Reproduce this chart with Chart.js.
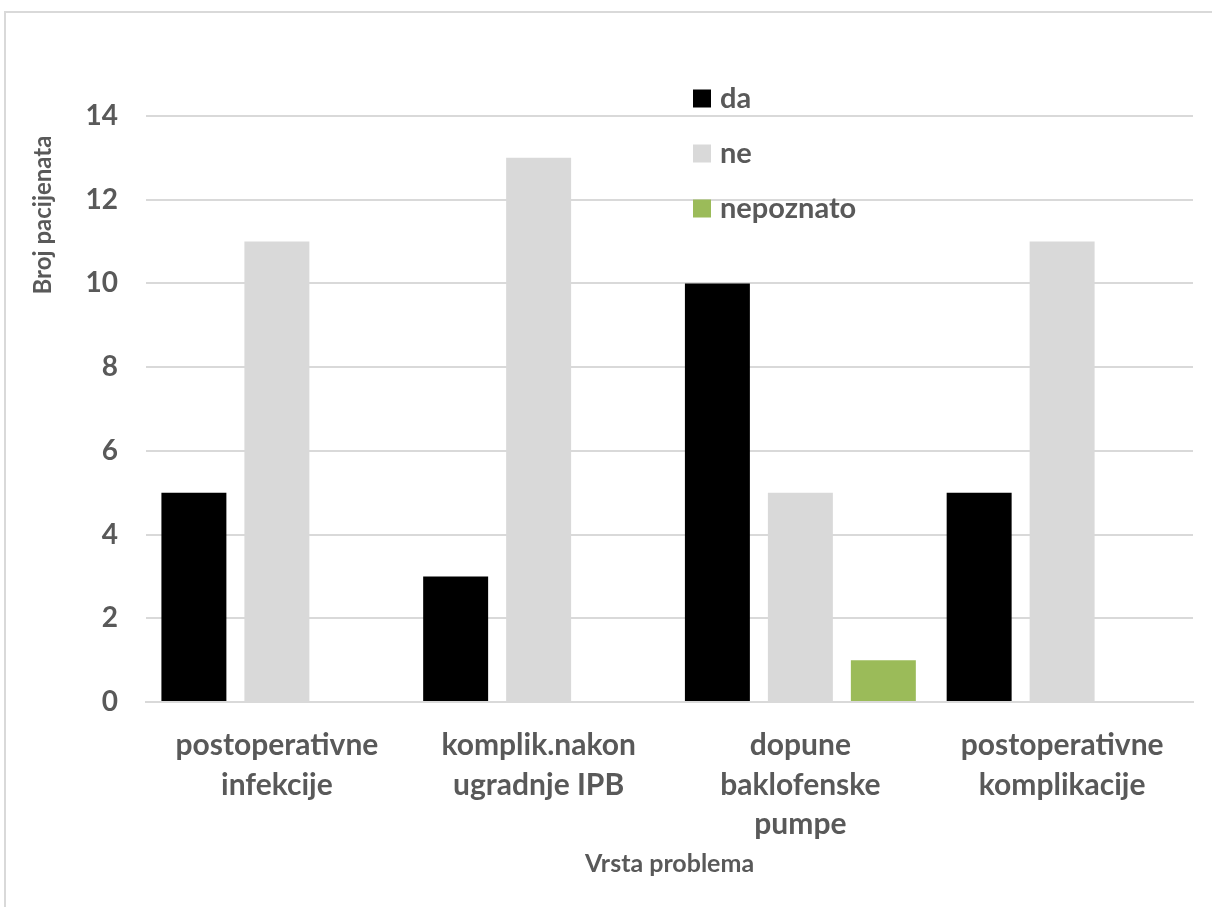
<!DOCTYPE html>
<html>
<head>
<meta charset="utf-8">
<script src="https://cdn.jsdelivr.net/npm/chart.js@4.4.1/dist/chart.umd.min.js"></script>
<style>
    html, body { margin: 0; padding: 0; background: #fff; overflow: hidden; }
    #frame {
        position: absolute; left: 4px; top: 11px; width: 1230px; height: 920px;
        border: 2px solid #d9d9d9; box-sizing: border-box;
    }
    #wrap { position: absolute; left: 0; top: 0; width: 1212px; height: 907px; }
</style>
</head>
<body>
<div id="frame"></div>
<div id="wrap"><canvas id="chart" width="1212" height="907"></canvas></div>
<script>
    // podaci s grafa
    const categories = [
        ['postoperativne', 'infekcije'],
        ['komplik.nakon', 'ugradnje IPB'],
        ['dopune', 'baklofenske', 'pumpe'],
        ['postoperativne', 'komplikacije'],
    ];
    const seriesNames = ['da', 'ne', 'nepoznato'];
    const daValues = [5, 3, 10, 5];
    const neValues = [11, 13, 5, 11];
    const nepoznatoValues = [0, 0, 1, 0];
    const yTicks = [0, 2, 4, 6, 8, 10, 12, 14];

    const textColor = '#595959';
    const fontFamily = 'Lato, "Open Sans", sans-serif';

    // legenda i naslovi osi crtaju se ručno (Excel ih drži na fiksnim mjestima)
    const extrasPlugin = {
        id: 'extras',
        afterDraw: function (chart) {
            const ctx = chart.ctx;
            const area = chart.chartArea;
            ctx.save();
            ctx.fillStyle = textColor;
            ctx.textAlign = 'center';
            ctx.textBaseline = 'middle';

            // naslov y osi
            ctx.font = 'bold 24px ' + fontFamily;
            ctx.save();
            ctx.translate(43, 215);
            ctx.rotate(-Math.PI / 2);
            ctx.fillText('Broj pacijenata', 0, 0);
            ctx.restore();

            // naslov x osi
            ctx.font = 'bold 25px ' + fontFamily;
            ctx.fillText('Vrsta problema', (area.left + area.right) / 2, 864);

            // legenda
            ctx.font = 'bold 29px ' + fontFamily;
            ctx.textAlign = 'left';
            chart.data.datasets.forEach(function (ds, i) {
                const cy = 98.5 + i * 55;
                ctx.fillStyle = ds.backgroundColor;
                ctx.fillRect(693, cy - 9, 18, 18);
                ctx.fillStyle = textColor;
                ctx.fillText(ds.label, 720, cy);
            });
            ctx.restore();
        },
    };

    new Chart(document.getElementById('chart'), {
        type: 'bar',
        data: {
            labels: categories,
            datasets: [
                { label: seriesNames[0], data: daValues, backgroundColor: '#000000' },
                { label: seriesNames[1], data: neValues, backgroundColor: '#d9d9d9' },
                { label: seriesNames[2], data: nepoznatoValues, backgroundColor: '#9bbb59' },
            ],
        },
        options: {
            responsive: false,
            animation: false,
            events: [],
            layout: { padding: { top: 116, right: 19, left: 0, bottom: 0 } },
            datasets: {
                bar: { categoryPercentage: 0.951, barPercentage: 0.783, borderWidth: 0 },
            },
            plugins: {
                legend: { display: false },
                tooltip: { enabled: false },
            },
            scales: {
                x: {
                    afterFit: function (scale) { scale.height = 205; },
                    grid: { display: false, drawTicks: false },
                    border: { display: true, color: '#d9d9d9', width: 2 },
                    ticks: {
                        padding: 23,
                        color: textColor,
                        maxRotation: 0,
                        autoSkip: false,
                        font: { family: fontFamily, size: 30, weight: 'bold', lineHeight: 1.33 },
                    },
                },
                y: {
                    min: 0,
                    max: 14,
                    afterFit: function (scale) { scale.width = 146; },
                    afterBuildTicks: function (scale) {
                        scale.ticks = yTicks.map(function (v) { return { value: v }; });
                    },
                    grid: { color: '#d9d9d9', lineWidth: 2, drawTicks: false },
                    border: { display: false },
                    ticks: {
                        padding: 28,
                        color: textColor,
                        font: { family: fontFamily, size: 28, weight: 'bold' },
                    },
                },
            },
        },
        plugins: [extrasPlugin],
    });
</script>
</body>
</html>
